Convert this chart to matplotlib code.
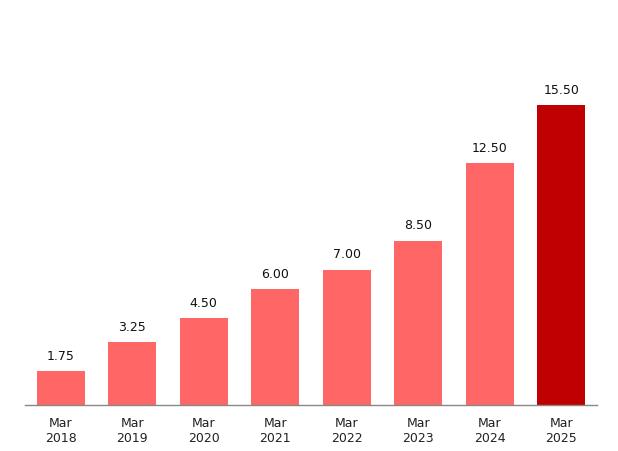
import matplotlib
matplotlib.use("Agg")
import matplotlib.pyplot as plt

categories = ["Mar\n2018", "Mar\n2019", "Mar\n2020", "Mar\n2021", "Mar\n2022", "Mar\n2023", "Mar\n2024", "Mar\n2025"]
values = [1.75, 3.25, 4.50, 6.00, 7.00, 8.50, 12.50, 15.50]
colors = ["#FF6666"] * 7 + ["#C00000"]

fig = plt.figure(figsize=(6.18, 4.51), dpi=100)
ax = fig.add_axes([25/618, 46/451, 572/618, 405/451])
x = list(range(len(values)))
bars = ax.bar(x, values, width=0.67, color=colors)
ax.set_xlim(-0.5, len(values) - 0.5)
ax.set_ylim(0, 405/19.35)
for xi, v in zip(x, values):
    ax.annotate(f"{v:.2f}", (xi, v), xytext=(0, 6), textcoords="offset points",
                ha="center", va="bottom", fontsize=9, color="#111111")
ax.set_xticks(x)
ax.set_xticklabels(categories, fontsize=9, color="#222222", linespacing=1.25)
ax.tick_params(axis="x", length=0, pad=8.5)
ax.set_yticks([])
for s in ["top", "right", "left"]:
    ax.spines[s].set_visible(False)
ax.spines["bottom"].set_color("#888888")
ax.spines["bottom"].set_linewidth(1)
fig.savefig("out.png", dpi=100)
